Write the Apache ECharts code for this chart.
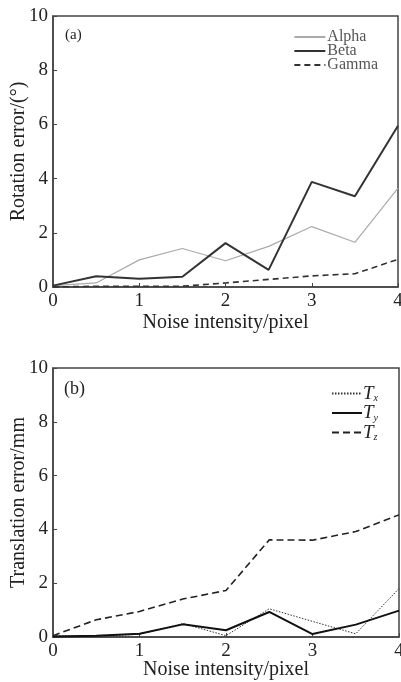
<!DOCTYPE html>
<html>
<head>
<meta charset="utf-8">
<script src="https://cdn.jsdelivr.net/npm/echarts@6/dist/echarts.min.js"></script>
<style>
  html, body { margin: 0; padding: 0; background: #fff; }
  #chart { width: 401px; height: 682px; }
</style>
</head>
<body>
<div id="chart"></div>
<script>
// noise intensity (pixel)
const noise = [0, 0.5, 1, 1.5, 2, 2.5, 3, 3.5, 4];

// (a) rotation error, degrees
const alpha = [0.05, 0.15, 1.0, 1.42, 0.97, 1.5, 2.23, 1.65, 3.65];
const beta = [0.05, 0.4, 0.3, 0.38, 1.62, 0.63, 3.88, 3.35, 5.95];
const gamma = [0.0, 0.03, 0.03, 0.03, 0.15, 0.28, 0.41, 0.49, 1.02];

// (b) translation error, mm
const tx = [0.05, 0.03, 0.1, 0.5, 0.05, 1.05, 0.58, 0.12, 1.8];
const ty = [0.02, 0.05, 0.12, 0.47, 0.25, 0.93, 0.11, 0.46, 0.98];
const tz = [0.05, 0.64, 0.95, 1.41, 1.73, 3.61, 3.6, 3.92, 4.54];

const xTicks = [0, 1, 2, 3, 4];
const yTicks = [0, 2, 4, 6, 8, 10];

const font = 'Liberation Serif';
const ink = '#222';

const pairs = (ys) => noise.map((x, i) => [x, ys[i]]);

const xAxisFor = (gridIndex, gap) => ({
  type: 'value',
  gridIndex,
  min: xTicks[0],
  max: xTicks[xTicks.length - 1],
  interval: 1,
  name: 'Noise intensity/pixel',
  nameLocation: 'middle',
  nameGap: gap,
  nameMoveOverlap: false,
  nameTextStyle: { fontFamily: font, fontSize: 20, color: ink },
  axisLine: { show: true, lineStyle: { color: '#444', width: 1.5 } },
  axisTick: { show: true, inside: true, length: 4, lineStyle: { color: '#444' } },
  axisLabel: { fontFamily: font, fontSize: 19, color: ink, margin: 5 },
  splitLine: { show: false }
});

const yAxisFor = (gridIndex, name) => ({
  type: 'value',
  gridIndex,
  min: yTicks[0],
  max: yTicks[yTicks.length - 1],
  interval: 2,
  name,
  nameLocation: 'middle',
  nameGap: 24,
  nameMoveOverlap: false,
  nameTextStyle: { fontFamily: font, fontSize: 20, color: ink },
  axisLine: { show: true, lineStyle: { color: '#444', width: 1.5 } },
  axisTick: { show: true, inside: true, length: 4, lineStyle: { color: '#444' } },
  axisLabel: { fontFamily: font, fontSize: 19, color: ink, margin: 5 },
  splitLine: { show: false }
});

const line = (name, data, idx, lineStyle) => ({
  name,
  type: 'line',
  xAxisIndex: idx,
  yAxisIndex: idx,
  data: pairs(data),
  symbol: 'none',
  smooth: false,
  lineStyle,
  itemStyle: { color: lineStyle.color }
});

const chart = echarts.init(document.getElementById('chart'), null, { renderer: 'canvas' });

chart.setOption({
  animation: false,
  backgroundColor: '#fff',
  grid: [
    { left: 53, top: 16, width: 345, height: 271, show: true, borderColor: '#444', borderWidth: 1.5, outerBoundsMode: 'none' },
    { left: 53, top: 368, width: 346, height: 269, show: true, borderColor: '#444', borderWidth: 1.5, outerBoundsMode: 'none' }
  ],
  title: [
    { text: '(a)', left: 60, top: 23, textStyle: { fontFamily: font, fontSize: 15, fontWeight: 'normal', color: ink } },
    { text: '(b)', left: 59, top: 375, textStyle: { fontFamily: font, fontSize: 18, fontWeight: 'normal', color: ink } }
  ],
  legend: [
    {
      data: ['Alpha', 'Beta', 'Gamma'],
      orient: 'vertical',
      right: 18,
      top: 24,
      itemWidth: 31,
      itemHeight: 10,
      itemGap: -2,
      itemStyle: { opacity: 0 },
      textStyle: { fontFamily: font, fontSize: 16, color: '#555', padding: [0, 0, 0, -3] }
    },
    {
      data: ['Tx', 'Ty', 'Tz'],
      orient: 'vertical',
      right: 18,
      top: 379,
      itemWidth: 30,
      itemHeight: 10,
      itemGap: 0,
      itemStyle: { opacity: 0 },
      formatter: (n) => '{i|T}{s|' + n.slice(1) + '}',
      textStyle: {
        padding: [0, 0, 0, -4],
        rich: {
          i: { fontFamily: font, fontStyle: 'italic', fontSize: 19, color: ink },
          s: { fontFamily: font, fontStyle: 'italic', fontSize: 10, color: ink, padding: [10, 0, 0, 0] }
        }
      }
    }
  ],
  xAxis: [xAxisFor(0, 26), xAxisFor(1, 23)],
  yAxis: [yAxisFor(0, 'Rotation error/(°)'), yAxisFor(1, 'Translation error/mm')],
  series: [
    line('Alpha', alpha, 0, { color: '#aaa', width: 1.2 }),
    line('Beta', beta, 0, { color: '#333', width: 2 }),
    line('Gamma', gamma, 0, { color: '#333', width: 1.6, type: [6, 4] }),
    line('Tx', tx, 1, { color: '#333', width: 1, type: [1.5, 1.5] }),
    line('Ty', ty, 1, { color: '#111', width: 2 }),
    line('Tz', tz, 1, { color: '#222', width: 1.6, type: [7, 4] })
  ]
});
</script>
</body>
</html>
